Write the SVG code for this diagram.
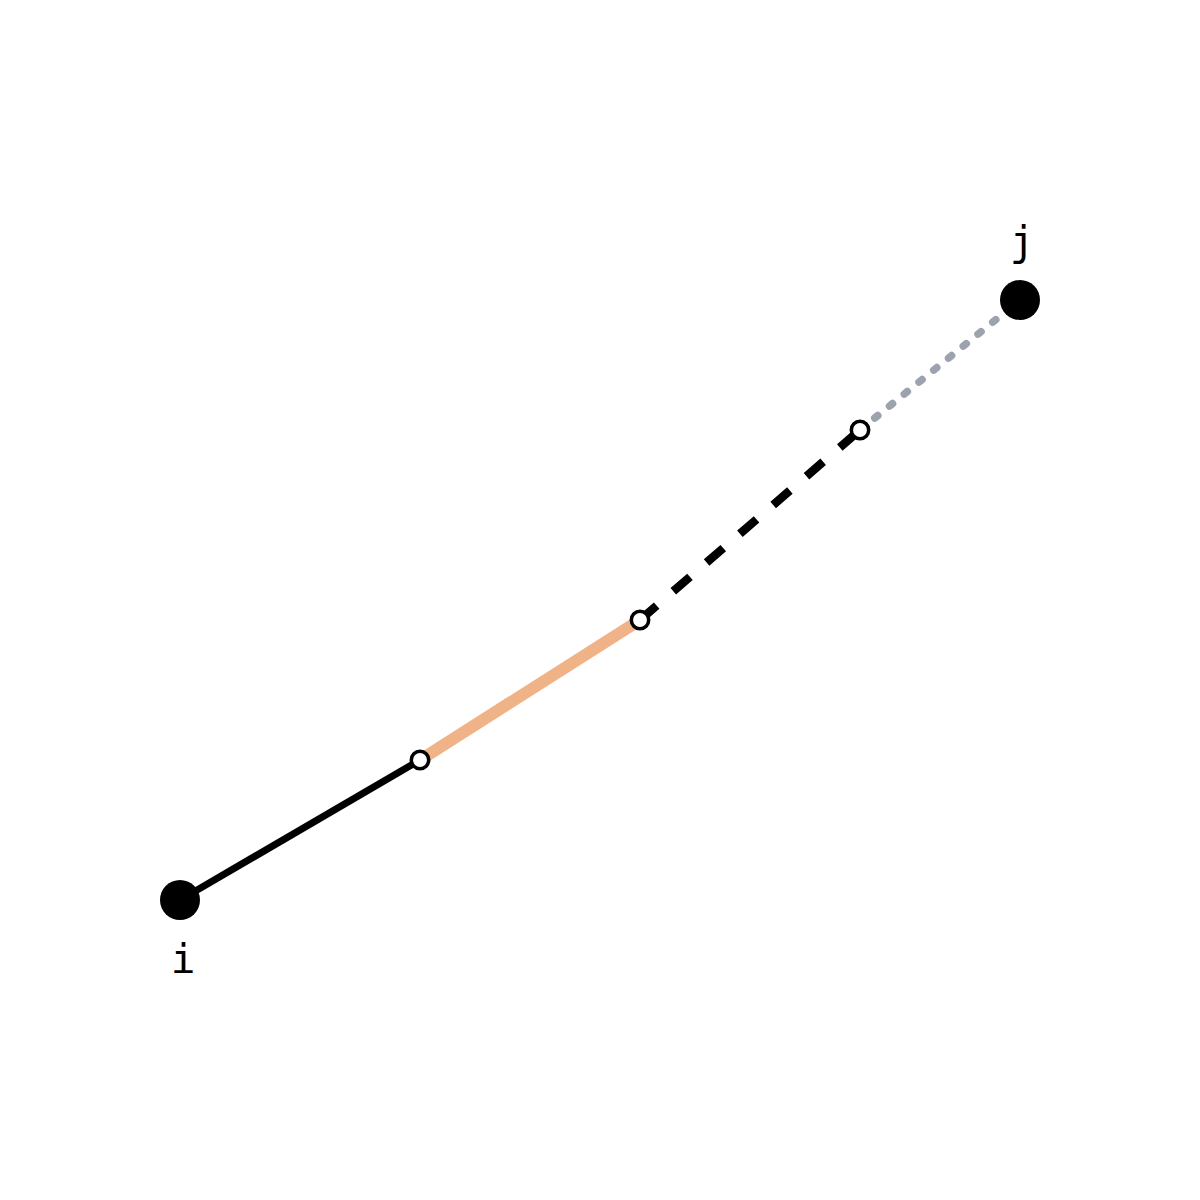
<svg xmlns="http://www.w3.org/2000/svg" width="1200" height="1200" viewBox="0 0 1200 1200">
<style>
.end{fill:#000}
.mid{fill:#fff;stroke:#000;stroke-width:3.5}
.lbl{font-family:"DejaVu Sans Mono","Liberation Mono",monospace;font-size:41px;fill:#000;text-anchor:middle}
</style>
<rect width="1200" height="1200" fill="#fff"/>
<g id="connectors" fill="none">
<line x1="180" y1="900" x2="420" y2="760" stroke="#000" stroke-width="7"/>
<line x1="420" y1="760" x2="640" y2="620" stroke="#F0B388" stroke-width="12"/>
<line x1="640" y1="620" x2="860" y2="430" stroke="#000" stroke-width="8.5" stroke-dasharray="22 22"/>
<line x1="860" y1="430" x2="1020" y2="300" stroke="#9CA3AF" stroke-width="7.5" stroke-linecap="round" stroke-dasharray="4 15"/>
</g>
<g id="node-i"><circle class="end" cx="180" cy="900" r="20"/><text class="lbl" x="183" y="973">i</text></g>
<g id="node-p1"><circle class="mid" cx="420" cy="760" r="8.7"/></g>
<g id="node-p2"><circle class="mid" cx="640" cy="620" r="8.7"/></g>
<g id="node-p3"><circle class="mid" cx="860" cy="430" r="8.7"/></g>
<g id="node-j"><circle class="end" cx="1020" cy="300" r="20"/><text class="lbl" x="1022" y="255">j</text></g>
</svg>
